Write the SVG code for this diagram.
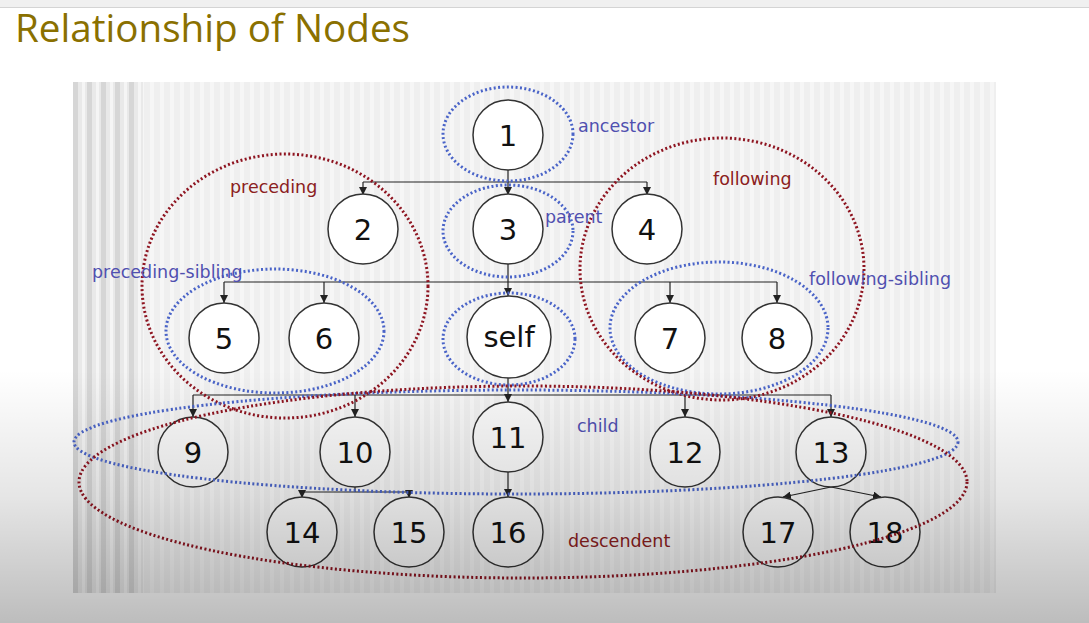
<svg xmlns="http://www.w3.org/2000/svg" width="1089" height="623" viewBox="0 0 1089 623">
<defs>
<pattern id="stripes" x="0" y="0" width="10" height="10" patternUnits="userSpaceOnUse">
<rect width="10" height="10" fill="#efefef"/>
<rect x="0" width="4" height="10" fill="#f6f6f6"/>
</pattern>
<pattern id="stripesL" x="73" y="0" width="14" height="10" patternUnits="userSpaceOnUse">
<rect width="14" height="10" fill="#e9e9e9"/>
<rect x="0" width="5" height="10" fill="#d6d6d6"/>
<rect x="9" width="3" height="10" fill="#f5f5f5"/>
</pattern>
<linearGradient id="shade" gradientUnits="userSpaceOnUse" x1="0" y1="370" x2="0" y2="623">
<stop offset="0" stop-color="#000" stop-opacity="0"/>
<stop offset="0.5" stop-color="#000" stop-opacity="0.1"/>
<stop offset="1" stop-color="#000" stop-opacity="0.26"/>
</linearGradient>
<marker id="arr" markerWidth="8" markerHeight="8" refX="8" refY="4" orient="auto" markerUnits="userSpaceOnUse">
<path d="M0,0 L8,4 L0,8 z" fill="#222"/>
</marker>
<style>
.node circle{fill:#ffffff;stroke:#333;stroke-width:1.5}
.low circle{fill:#f8f8f8}
.node text{font-family:"DejaVu Sans",Verdana,sans-serif;font-size:29px;fill:#111;text-anchor:middle}
.edge{stroke:#222;stroke-width:1.2;fill:none}
.dotb{fill:none;stroke:#4a64c8;stroke-width:3;stroke-dasharray:2 2.4}
.dotr{fill:none;stroke:#8e1420;stroke-width:3;stroke-dasharray:2 2.4}
.lb{font-family:"DejaVu Sans",Verdana,sans-serif;font-size:17.5px;fill:#5050b0}
.lr{font-family:"DejaVu Sans",Verdana,sans-serif;font-size:17.5px;fill:#8b2020}
</style>
</defs>
<rect width="1089" height="623" fill="#ffffff"/>
<rect width="1089" height="7" fill="#f0f0f0"/>
<line x1="0" y1="7.5" x2="1089" y2="7.5" stroke="#d4d4d4" stroke-width="1"/>
<text x="15" y="42" font-family="'Open Sans','Liberation Sans',sans-serif" font-size="38" fill="#8a7000" textLength="395" lengthAdjust="spacingAndGlyphs">Relationship of Nodes</text>

<g id="panel">
<rect x="73" y="82" width="923" height="511" fill="url(#stripes)"/>
<rect x="73" y="82" width="70" height="511" fill="url(#stripesL)"/>
</g>

<g id="connectors">
<line class="edge" x1="508" y1="170" x2="508" y2="182"/>
<line class="edge" x1="363" y1="182" x2="647" y2="182"/>
<line class="edge" x1="363" y1="182" x2="363" y2="195" marker-end="url(#arr)"/>
<line class="edge" x1="508" y1="182" x2="508" y2="195" marker-end="url(#arr)"/>
<line class="edge" x1="647" y1="182" x2="647" y2="195" marker-end="url(#arr)"/>

<line class="edge" x1="508" y1="263" x2="508" y2="282"/>
<line class="edge" x1="224" y1="282" x2="777" y2="282"/>
<line class="edge" x1="224" y1="282" x2="224" y2="303" marker-end="url(#arr)"/>
<line class="edge" x1="324" y1="282" x2="324" y2="303" marker-end="url(#arr)"/>
<line class="edge" x1="508" y1="282" x2="508" y2="296" marker-end="url(#arr)"/>
<line class="edge" x1="670" y1="282" x2="670" y2="303" marker-end="url(#arr)"/>
<line class="edge" x1="777" y1="282" x2="777" y2="303" marker-end="url(#arr)"/>

<line class="edge" x1="508" y1="378" x2="508" y2="395"/>
<line class="edge" x1="193" y1="395" x2="831" y2="395"/>
<line class="edge" x1="193" y1="395" x2="193" y2="417" marker-end="url(#arr)"/>
<line class="edge" x1="355" y1="395" x2="355" y2="417" marker-end="url(#arr)"/>
<line class="edge" x1="508" y1="395" x2="508" y2="402" marker-end="url(#arr)"/>
<line class="edge" x1="685" y1="395" x2="685" y2="417" marker-end="url(#arr)"/>
<line class="edge" x1="831" y1="395" x2="831" y2="417" marker-end="url(#arr)"/>

<line class="edge" x1="355" y1="487" x2="355" y2="492"/>
<line class="edge" x1="302" y1="492" x2="409" y2="492"/>
<line class="edge" x1="302" y1="492" x2="302" y2="498" marker-end="url(#arr)"/>
<line class="edge" x1="409" y1="492" x2="409" y2="498" marker-end="url(#arr)"/>

<line class="edge" x1="508" y1="472" x2="508" y2="497" marker-end="url(#arr)"/>

<line class="edge" x1="831" y1="487" x2="783" y2="497" marker-end="url(#arr)"/>
<line class="edge" x1="831" y1="487" x2="881" y2="497" marker-end="url(#arr)"/>
</g>

<g id="n1" class="node"><circle cx="508" cy="135" r="35"/><text x="508" y="146">1</text></g>
<g id="n2" class="node"><circle cx="363" cy="229" r="35"/><text x="363" y="240">2</text></g>
<g id="n3" class="node"><circle cx="508" cy="229" r="35"/><text x="508" y="240">3</text></g>
<g id="n4" class="node"><circle cx="647" cy="229" r="35"/><text x="647" y="240">4</text></g>
<g id="n5" class="node"><circle cx="224" cy="338" r="35"/><text x="224" y="349">5</text></g>
<g id="n6" class="node"><circle cx="324" cy="338" r="35"/><text x="324" y="349">6</text></g>
<g id="nself" class="node"><ellipse cx="509" cy="337" rx="42" ry="41" fill="#fff" stroke="#333" stroke-width="1.5"/><text x="509" y="347">self</text></g>
<g id="n7" class="node"><circle cx="670" cy="338" r="35"/><text x="670" y="349">7</text></g>
<g id="n8" class="node"><circle cx="777" cy="338" r="35"/><text x="777" y="349">8</text></g>
<g id="n9" class="node low"><circle cx="193" cy="452" r="35"/><text x="193" y="463">9</text></g>
<g id="n10" class="node low"><circle cx="355" cy="452" r="35"/><text x="355" y="463">10</text></g>
<g id="n11" class="node low"><circle cx="508" cy="437" r="35"/><text x="508" y="448">11</text></g>
<g id="n12" class="node low"><circle cx="685" cy="452" r="35"/><text x="685" y="463">12</text></g>
<g id="n13" class="node low"><circle cx="831" cy="452" r="35"/><text x="831" y="463">13</text></g>
<g id="n14" class="node low"><circle cx="302" cy="532" r="35"/><text x="302" y="543">14</text></g>
<g id="n15" class="node low"><circle cx="409" cy="532" r="35"/><text x="409" y="543">15</text></g>
<g id="n16" class="node low"><circle cx="508" cy="532" r="35"/><text x="508" y="543">16</text></g>
<g id="n17" class="node low"><circle cx="778" cy="532" r="35"/><text x="778" y="543">17</text></g>
<g id="n18" class="node low"><circle cx="885" cy="532" r="35"/><text x="885" y="543">18</text></g>

<g id="groups">
<ellipse class="dotb" cx="508" cy="134" rx="65" ry="47"/>
<ellipse class="dotb" cx="508" cy="231" rx="65" ry="46"/>
<ellipse class="dotb" cx="509" cy="339" rx="66" ry="46"/>
<ellipse class="dotb" cx="275" cy="331" rx="109" ry="62"/>
<ellipse class="dotb" cx="719" cy="328" rx="109" ry="66"/>
<ellipse class="dotr" cx="285" cy="286" rx="143" ry="132"/>
<ellipse class="dotr" cx="722" cy="269" rx="142" ry="131"/>
<ellipse class="dotb" cx="516" cy="442" rx="442" ry="52"/>
<ellipse class="dotr" cx="523" cy="482" rx="444" ry="96"/>
</g>

<g id="labels">
<text class="lb" x="578" y="132">ancestor</text>
<text class="lr" x="230" y="193">preceding</text>
<text class="lb" x="545" y="223">parent</text>
<text class="lr" x="713" y="185">following</text>
<text class="lb" x="92" y="278">preceding-sibling</text>
<text class="lb" x="809" y="285">following-sibling</text>
<text class="lb" x="577" y="432">child</text>
<text class="lr" x="568" y="547">descendent</text>
</g>

<rect id="shading" x="0" y="370" width="1089" height="253" fill="url(#shade)" pointer-events="none"/>
</svg>
